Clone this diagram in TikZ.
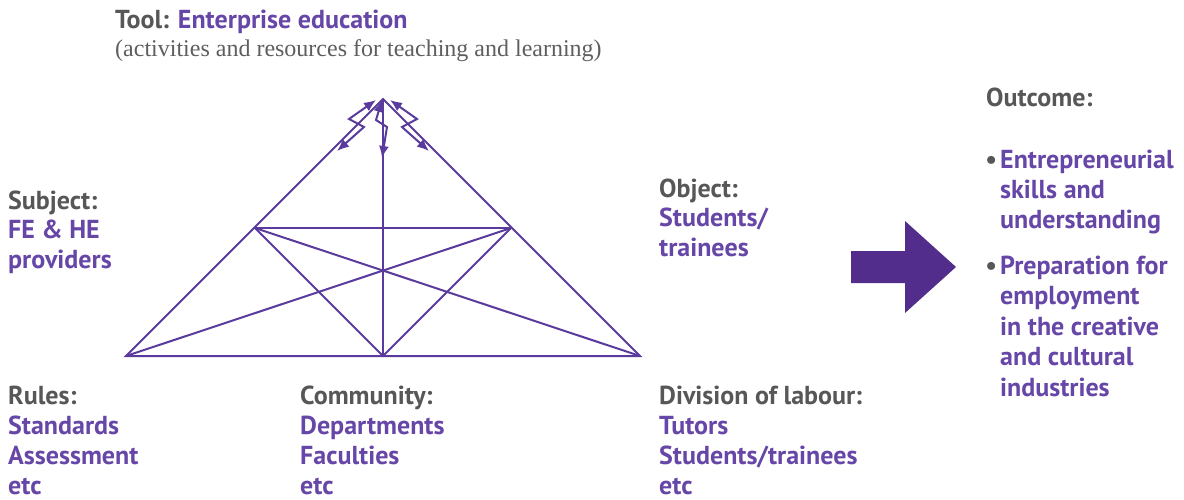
\documentclass[tikz,border=0pt]{standalone}
\usepackage{fontspec}
\setmainfont{PT Sans}
\newfontfamily\notefont{Liberation Serif}
\usetikzlibrary{arrows.meta,positioning}
\definecolor{labelgray}{HTML}{575757}
\definecolor{notegray}{HTML}{5E5E5E}
\definecolor{textpurple}{HTML}{6646A6}
\definecolor{linepurple}{HTML}{5A3A9C}
\definecolor{arrowpurple}{HTML}{522D8C}
\newcommand{\hd}[1]{{\color{labelgray}#1}}
\newcommand{\bul}{\llap{\color{labelgray}\textbullet\hspace{3pt}}}
\tikzset{
  edge/.style={draw=linepurple, line width=2pt},
  bolt/.style={draw=linepurple, line width=2pt, line join=miter,
    {Latex[length=12pt,width=10pt]}-{Latex[length=12pt,width=10pt]}},
  tagtext/.style={anchor=base west, inner sep=0, align=left, text=textpurple,
    font=\bfseries\fontsize{26}{29.3}\selectfont}
}

\begin{document}
\begin{tikzpicture}[x=1pt, y=-1pt]
\useasboundingbox (0,0) rectangle (1184,500);

% Triangle corners
\coordinate (apex) at (383,99);
\coordinate (bl) at (126,356);
\coordinate (br) at (640,356);
\coordinate (bm) at (383,356);
\coordinate (ul) at (255,228);
\coordinate (ur) at (511,228);

% Triangle lines
\draw[edge] (apex) -- (bl) -- (br) -- cycle;
\draw[edge] (ul) -- (ur);
\draw[edge] (apex) -- (bm);
\draw[edge] (ul) -- (bm) -- (ur);
\draw[edge] (ul) -- (br);
\draw[edge] (ur) -- (bl);

% Lightning arrows at the top
\coordinate (l1) at (376,100); \coordinate (l2) at (349,119);
\coordinate (l3) at (364,127); \coordinate (l4) at (337,151);
\coordinate (m1) at (382,100); \coordinate (m2) at (376,120);
\coordinate (m3) at (387,127); \coordinate (m4) at (382,158);
\coordinate (r1) at (390,100); \coordinate (r2) at (417,119);
\coordinate (r3) at (402,127); \coordinate (r4) at (429,151);
\draw[bolt] (l1) -- (l2) -- (l3) -- (l4);
\draw[bolt] (m1) -- (m2) -- (m3) -- (m4);
\draw[bolt] (r1) -- (r2) -- (r3) -- (r4);

% Big arrow
\fill[arrowpurple] (851,251) -- (905,251) -- (905,221) -- (956,267)
  -- (905,313) -- (905,283) -- (851,283) -- cycle;

% Labels (anchored on the baseline of their last line)
\node[tagtext] (tool) at (115,29) {\hd{Tool:} Enterprise education};
\node[tagtext, text=notegray, font=\notefont\fontsize{24}{26}\selectfont] (note) at (115,57)
  {(activities and resources for teaching and learning)};
\node[tagtext] (subject) at (8,268) {\hd{Subject:}\\FE \& HE\\providers};
\node[tagtext] (object) at (659,256) {\hd{Object:}\\Students/\\trainees};
\node[tagtext, font=\bfseries\fontsize{26}{30}\selectfont] (rules) at (8,494)
  {\hd{Rules:}\\Standards\\Assessment\\etc};
\node[tagtext, font=\bfseries\fontsize{26}{30}\selectfont] (community) at (300,494)
  {\hd{Community:}\\Departments\\Faculties\\etc};
\node[tagtext, font=\bfseries\fontsize{26}{30}\selectfont] (division) at (659,494)
  {\hd{Division of labour:}\\Tutors\\Students/trainees\\etc};

% Outcome
\node[tagtext] (outcome) at (986,107) {\hd{Outcome:}};
\node[tagtext, font=\bfseries\fontsize{26}{30.5}\selectfont] (skills) at (1000,229)
  {\bul Entrepreneurial\\skills and\\understanding};
\node[tagtext, font=\bfseries\fontsize{26}{30.5}\selectfont] (prep) at (1000,396)
  {\bul Preparation for\\employment\\in the creative\\and cultural\\industries};

\end{tikzpicture}
\end{document}
